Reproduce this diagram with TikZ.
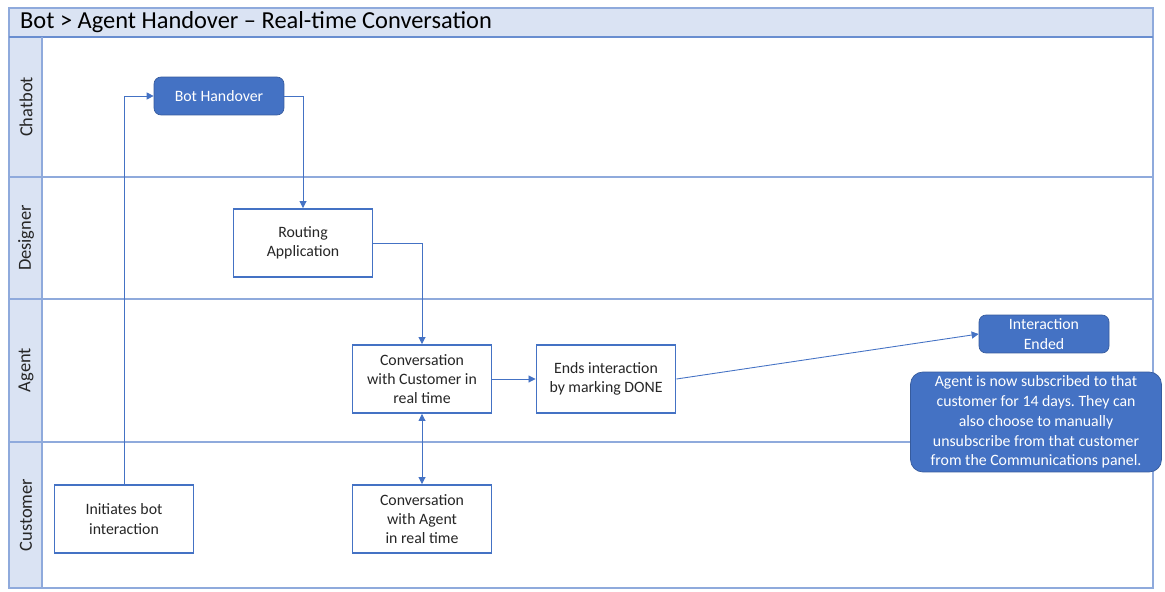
\documentclass[tikz,border=0pt]{standalone}
\usepackage{fontspec}
\setmainfont{Carlito}
\usetikzlibrary{arrows.meta}
\definecolor{laneblue}{HTML}{8FAADC}
\definecolor{boxblue}{HTML}{4472C4}
\definecolor{headfill}{HTML}{DAE3F3}
\frenchspacing
\begin{document}
\begin{tikzpicture}[x=0.02cm,y=-0.02cm,
    lane/.style={draw=laneblue,line width=0.8pt},
    lanename/.style={rotate=90,font=\fontsize{10.5}{12}\selectfont,text=black!85},
    task/.style={draw=boxblue,line width=1.1pt,fill=white,align=center,
      minimum width=2.78cm,minimum height=1.36cm,inner sep=1pt,
      font=\fontsize{9}{11}\selectfont,text=black!85},
    event/.style={fill=boxblue,draw=boxblue!80!black,rounded corners=4pt,align=center,
      minimum width=2.6cm,minimum height=0.76cm,inner sep=1pt,
      font=\fontsize{9}{11}\selectfont,text=white},
    flow/.style={draw=boxblue,line width=0.5pt,-{Triangle[length=4pt,width=4pt]}}]
  \useasboundingbox (0,0) rectangle (1165,591);
  % frame, header and lanes
  \fill[headfill] (9,8) rectangle (1153,37);
  \fill[headfill] (9,37) rectangle (42,588);
  \draw[lane] (9,8) rectangle (1153,588);
  \draw[lane,draw=boxblue!80] (9,37) -- (1153,37);
  \draw[lane] (42,37) -- (42,588);
  \draw[lane] (9,177) -- (1153,177);
  \draw[lane] (9,299) -- (1153,299);
  \draw[lane] (9,442) -- (1153,442);
  \node[anchor=west,font=\fontsize{13.9}{16}\selectfont] (title) at (14,22) {Bot > Agent Handover – Real-time Conversation};
  \node[lanename] (chatbot) at (26,107) {Chatbot};
  \node[lanename] (designer) at (26,238) {Designer};
  \node[lanename] (agent) at (26,370) {Agent};
  \node[lanename] (customer) at (26,515) {Customer};
  % steps
  \node[event] (bot) at (219,96) {Bot Handover};
  \node[task] (route) at (303,243) {Routing\\Application};
  \node[task] (convc) at (422,379) {Conversation\\with Customer in\\real time};
  \node[task] (ends) at (606,379) {Ends interaction\\by marking DONE};
  \node[event] (ended) at (1044,334) {Interaction\\Ended};
  \node[event,minimum width=5.02cm,minimum height=2cm,rounded corners=7pt,
    font=\fontsize{9}{11.3}\selectfont] (note) at (1036,422)
    {Agent is now subscribed to that\\customer for 14 days. They can\\also choose to manually\\unsubscribe from that customer\\from the Communications panel.};
  \node[task] (init) at (124,519) {Initiates bot\\interaction};
  \node[task] (conva) at (422,519) {Conversation\\with Agent\\in real time};
  % connectors
  \draw[flow] (init.north) |- (bot.west);
  \draw[flow] (bot.east) -| (route.north);
  \draw[flow] (route.east) -| (convc.north);
  \draw[flow] (convc) -- (ends);
  \draw[flow] (ends.east) -- (ended.west);
  \draw[flow,{Triangle[length=4pt,width=4pt]}-{Triangle[length=4pt,width=4pt]}] (conva.north) -- (convc.south);
\end{tikzpicture}
\end{document}
